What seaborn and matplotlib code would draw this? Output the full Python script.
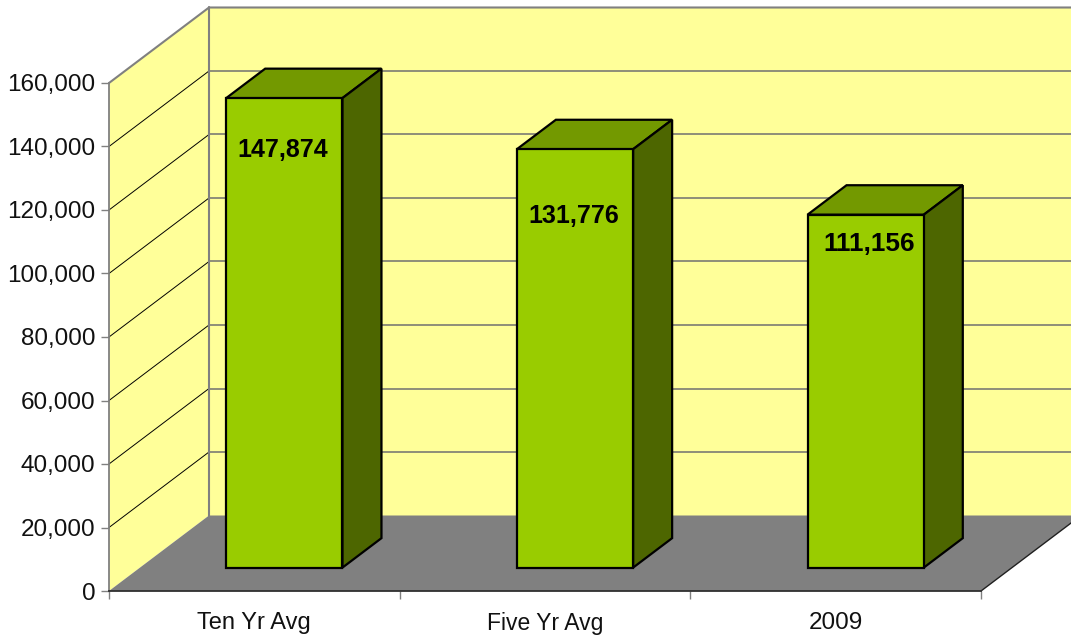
import matplotlib
matplotlib.use("Agg")
import matplotlib.pyplot as plt
import seaborn as sns

categorias = ['Ten Yr Avg', 'Five Yr Avg', '2009']
valores = [147874, 131776, 111156]
rotulos_valores = ['147,874', '131,776', '111,156']
ticks_y = [0, 20000, 40000, 60000, 80000, 100000, 120000, 140000, 160000]

# posicao do rotulo em relacao ao topo da barra, em pixels
desloc_rotulos = [(-2, 52), (-1, 67), (4, 29)]
tamanhos_rotulos = [18, 18, 18.8]
tamanhos_categorias = [17, 16.5, 17.5]

W, H = 1071, 636
sns.set_style('white')
plt.rcParams['font.family'] = ['Liberation Sans', 'DejaVu Sans']

fig = plt.figure(figsize=(W / 100, H / 100), dpi=100)
# o eixo ocupa o plano da frente do grafico
ax = fig.add_axes([109 / W, 1 - 591 / H, 872 / W, 508 / H])
ax.patch.set_alpha(0)

# profundidade do grafico (em unidades dos dados)
px_x = 3 / 872
px_y = 160000 / 508
prof_x = 100 * px_x
prof_y = 75.5 * px_y

sns.barplot(x=categorias, y=valores, color='#99CC00', saturation=1, width=0.4,
            edgecolor='black', linewidth=1.6, ax=ax, zorder=5)
ax.set_xlim(-0.5, 2.5)
ax.set_ylim(0, 160000)

# paredes e piso
x0, x1, y1 = -0.5, 2.5, 160000
ax.fill([x0, x0 + prof_x, x0 + prof_x, x0], [0, prof_y, y1 + prof_y, y1],
        color='#FFFF99', lw=0, clip_on=False, zorder=0)
ax.fill([x0 + prof_x, x1 + prof_x, x1 + prof_x, x0 + prof_x],
        [prof_y, prof_y, y1 + prof_y, y1 + prof_y],
        color='#FFFF99', lw=0, clip_on=False, zorder=0)
ax.fill([x0, x0 + prof_x, x1 + prof_x, x1], [0, prof_y, prof_y, 0],
        color='#808080', lw=0, clip_on=False, zorder=1)

# grade
for t in ticks_y[1:-1]:
    ax.plot([x0, x0 + prof_x], [t, t + prof_y], color='black', lw=0.7,
            clip_on=False, zorder=2)
    ax.plot([x0 + prof_x, x1 + prof_x], [t + prof_y, t + prof_y], color='#707070',
            lw=1.1, clip_on=False, zorder=2)
ax.plot([x0, x0 + prof_x, x1 + prof_x], [y1, y1 + prof_y, y1 + prof_y], color='#808080',
        lw=1.5, clip_on=False, zorder=2)
ax.plot([x0 + prof_x, x0 + prof_x], [prof_y, y1 + prof_y], color='#808080', lw=1.5,
        clip_on=False, zorder=2)
ax.plot([x1, x1 + prof_x], [0, prof_y], color='#202020', lw=1,
        clip_on=False, zorder=2)

# barras 3D: a face da frente vem do seaborn, topo e lado sao desenhados a partir dela
frente_x = 0.3 * prof_x
frente_y = 0.31 * prof_y
barra_x = 0.39 * prof_x
barra_y = 0.39 * prof_y

for barra, texto, desloc, tam in zip(ax.patches, rotulos_valores, desloc_rotulos, tamanhos_rotulos):
    barra.set_x(barra.get_x() + frente_x)
    barra.set_y(frente_y)
    barra.set_clip_on(False)
    esq = barra.get_x()
    dir = esq + barra.get_width()
    base = barra.get_y()
    topo = base + barra.get_height()
    ax.fill([esq, esq + barra_x, dir + barra_x, dir],
            [topo, topo + barra_y, topo + barra_y, topo],
            facecolor='#739900', edgecolor='black', lw=1.6, clip_on=False, zorder=4)
    ax.fill([dir, dir + barra_x, dir + barra_x, dir],
            [base, base + barra_y, topo + barra_y, topo],
            facecolor='#4D6600', edgecolor='black', lw=1.6, clip_on=False, zorder=4)
    ax.annotate(texto, xy=((esq + dir) / 2, topo), xytext=(desloc[0] * 0.72, -desloc[1] * 0.72),
                textcoords='offset points', ha='center', va='center',
                fontsize=tam, fontweight='bold', color='black', zorder=6)

# eixos
sns.despine(ax=ax)
ax.spines['left'].set_color('#808080')
ax.spines['left'].set_linewidth(1.3)
ax.spines['bottom'].set_color('#303030')
ax.spines['bottom'].set_linewidth(1.3)
ax.set_yticks(ticks_y)
ax.set_yticklabels([f'{t:,}' for t in ticks_y])
ax.set_xticks(range(len(categorias)))
ax.set_xticklabels(categorias)
ax.set_xticks([-0.5, 0.5, 1.5, 2.5], minor=True)
ax.tick_params(axis='y', length=6, width=1, color='#808080', labelsize=17.5, pad=3.7,
               left=True, labelcolor='#111111')
ax.tick_params(axis='x', which='major', length=0, pad=14.8, labelcolor='#111111')
ax.tick_params(axis='x', which='minor', length=6, width=1, color='#808080', bottom=True)
for rotulo, tam in zip(ax.get_xticklabels(), tamanhos_categorias):
    rotulo.set_fontsize(tam)
ax.set_xlabel('')
ax.set_ylabel('')

plt.savefig('out.png', dpi=100)
